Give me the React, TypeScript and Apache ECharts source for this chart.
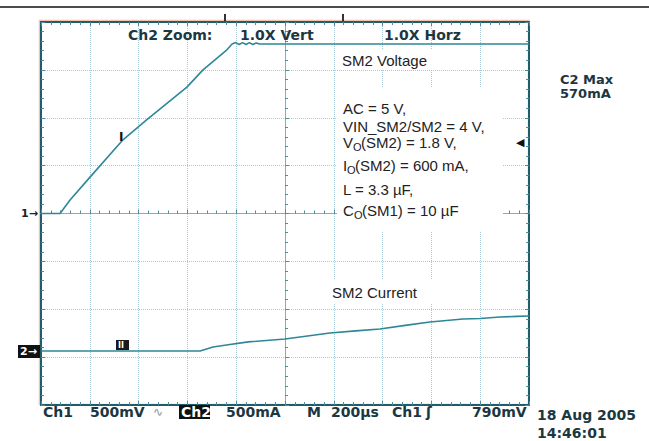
import React, { useEffect, useRef } from "react";
import * as echarts from "echarts";

// Time base 200 µs/div, 10 divisions
const timeMin = 0;
const timeMax = 2000;
const timeStep = 200;
// Ch1: 500 mV/div, ground at centre
const ch1Min = -2;
const ch1Max = 2;
const ch1Step = 0.5;
// Ch2: 500 mA/div, ground 2.87 div below centre
const ch2Min = -564;
const ch2Max = 3436;

// SM2 Voltage (Ch1), volts
const voltTimeUs = [0, 78, 119, 201, 336, 434, 598, 664, 762, 783, 798, 812, 826, 840, 854, 868, 882, 896, 910, 2000];
const voltValuesV = [0, 0, 0.14, 0.38, 0.77, 0.98, 1.32, 1.5, 1.71, 1.77, 1.785, 1.765, 1.785, 1.765, 1.785, 1.765, 1.78, 1.77, 1.77, 1.77];
// SM2 Current (Ch2), mA
const currTimeUs = [0, 652, 705, 760, 850, 1000, 1100, 1184, 1290, 1389, 1500, 1594, 1730, 1800, 1881, 1950, 2000];
const currValuesMA = [0, 0, 42, 62, 95, 125, 160, 188, 210, 230, 270, 303, 334, 340, 355, 362, 365];

const frameColor = "#1f5c6c";
const tickColor = "#4f8c9d";
const gridColor = "#a9cad7";
const traceColor = "#2e8799";
const scopeText = "#1b3742";
const scopeFont = "DejaVu Sans";
const noteFont = "Liberation Sans";

function txt(text: string, x: number, y: number, opts: any = {}) {
  return {
    type: "text",
    x,
    y,
    z: 20,
    style: {
      text,
      fill: opts.fill || scopeText,
      fontSize: opts.fontSize || 14,
      fontFamily: opts.fontFamily || scopeFont,
      fontWeight: opts.fontWeight || "bold",
      align: opts.align || "left",
      verticalAlign: "middle",
    },
  };
}
function note(text: string, x: number, y: number, size = 15) {
  return txt(text, x, y, { fill: "#222", fontSize: size, fontFamily: noteFont, fontWeight: "normal" });
}
function box(x: number, y: number, w: number, h: number, fill: string, z = 5) {
  return { type: "rect", z, shape: { x, y, width: w, height: h }, style: { fill } };
}

export default function App() {
  const ref = useRef<HTMLDivElement>(null);
  useEffect(() => {
    if (!ref.current) return;
    const chart = echarts.init(ref.current, undefined, { renderer: "svg" });
    const frameAxisX = (position: string) => ({
      type: "value",
      min: timeMin,
      max: timeMax,
      interval: timeStep,
      position,
      axisLine: { show: true, onZero: false, lineStyle: { color: frameColor, width: 2 } },
      axisTick: { show: true, inside: true, length: 4, lineStyle: { color: tickColor } },
      minorTick: { show: true, splitNumber: 5, length: 3, lineStyle: { color: tickColor } },
      axisLabel: { show: false },
      splitLine: { show: false },
    });
    const frameAxisY = (position: string, offset = 0, color = frameColor, width = 2) => ({
      type: "value",
      min: ch1Min,
      max: ch1Max,
      interval: ch1Step,
      position,
      offset,
      axisLine: { show: true, onZero: false, lineStyle: { color, width } },
      axisTick: { show: true, inside: true, length: 4, lineStyle: { color: tickColor } },
      minorTick: { show: true, splitNumber: 5, length: 3, lineStyle: { color: tickColor } },
      axisLabel: { show: false },
      splitLine: { show: false },
    });
    const option: any = {
      animation: false,
      backgroundColor: "#ffffff",
      grid: { left: 41, top: 22, width: 488, height: 383, show: false },
      xAxis: [
        {
          type: "value",
          min: timeMin,
          max: timeMax,
          interval: timeStep,
          axisLine: { show: true, onZero: true, onZeroAxisIndex: 0, lineStyle: { color: "#7fb0bf", width: 1 } },
          axisTick: { show: true, inside: true, length: 4, lineStyle: { color: tickColor } },
          minorTick: { show: true, splitNumber: 5, length: 3, lineStyle: { color: tickColor } },
          axisLabel: { show: false },
          splitLine: { show: true, lineStyle: { type: "dotted", color: gridColor, width: 1 } },
        },
        frameAxisX("top"),
        frameAxisX("bottom"),
      ],
      yAxis: [
        {
          ...frameAxisY("left"),
          splitLine: { show: true, lineStyle: { type: "dotted", color: gridColor, width: 1 } },
        },
        { type: "value", min: ch2Min, max: ch2Max, show: false },
        frameAxisY("right"),
        frameAxisY("left", -244, "#7fb0bf", 1),
      ],
      series: [
        {
          name: "SM2 Voltage",
          type: "line",
          xAxisIndex: 0,
          yAxisIndex: 0,
          data: voltTimeUs.map((t, i) => [t, voltValuesV[i]]),
          symbol: "none",
          lineStyle: { color: traceColor, width: 1.6 },
          z: 4,
        },
        {
          name: "SM2 Current",
          type: "line",
          xAxisIndex: 0,
          yAxisIndex: 1,
          data: currTimeUs.map((t, i) => [t, currValuesMA[i]]),
          symbol: "none",
          lineStyle: { color: traceColor, width: 1.6 },
          z: 4,
        },
      ],
      graphic: [
        { type: "rect", z: -1, shape: { x: 39.5, y: 20.5, width: 489, height: 384 }, style: { fill: "none", stroke: "#f2c3ad", lineWidth: 1.5 } },
        { type: "line", z: 20, shape: { x1: 0, y1: 7, x2: 649, y2: 7 }, style: { stroke: "#111", lineWidth: 1.5 } },
        { type: "line", z: 20, shape: { x1: 225, y1: 14, x2: 225, y2: 21 }, style: { stroke: "#333", lineWidth: 2 } },
        { type: "line", z: 20, shape: { x1: 343, y1: 14, x2: 343, y2: 21 }, style: { stroke: "#333", lineWidth: 2 } },
        txt("Ch2 Zoom:", 128, 35),
        txt("1.0X Vert", 240, 35),
        txt("1.0X Horz", 384, 35),
        box(337, 50, 100, 20, "#fff"),
        note("SM2 Voltage", 342, 60),
        box(337, 88, 166, 144, "#fff"),
        note("AC = 5 V,", 343, 108),
        note("VIN_SM2/SM2 = 4 V,", 343, 126),
        note("V", 343, 142),
        note("O", 353, 147, 11),
        note("(SM2) = 1.8 V,", 361, 142),
        note("I", 343, 165),
        note("O", 347, 170, 11),
        note("(SM2) = 600 mA,", 355, 165),
        note("L = 3.3 \u00b5F,", 343, 189),
        note("C", 343, 210),
        note("O", 354, 215, 11),
        note("(SM1) = 10 \u00b5F", 362, 210),
        box(320, 280, 120, 24, "#fff"),
        note("SM2 Current", 332, 292),
        txt("C2 Max", 560, 79, { fontSize: 13 }),
        txt("570mA", 560, 93, { fontSize: 13 }),
        txt("\u25c0", 516, 142, { fontSize: 11, fill: "#111" }),
        txt("I", 119, 137, { fontSize: 12, fill: "#111" }),
        box(116, 340, 13, 10, "#1a1a1a", 19),
        txt("II", 118, 345.5, { fontSize: 8, fill: "#fff" }),
        txt("1\u2192", 21, 213, { fontSize: 11, fill: "#222" }),
        box(18, 345, 22, 13, "#111", 19),
        txt("2\u2192", 20, 351.5, { fontSize: 11, fill: "#fff" }),
        txt("Ch1", 43, 412),
        txt("500mV", 90, 412),
        txt("\u223f", 153, 412, { fontSize: 12, fill: "#8a9aa0", fontWeight: "normal" }),
        box(179, 405, 31, 14, "#111", 19),
        txt("Ch2", 181, 412, { fill: "#fff" }),
        txt("500mA", 226, 412),
        txt("M", 307, 412),
        txt("200\u00b5s", 331, 412),
        txt("Ch1", 392, 412),
        txt("\u0283", 426, 412),
        txt("790mV", 472, 412),
        txt("18 Aug 2005", 537, 415),
        txt("14:46:01", 537, 433),
      ],
    };
    chart.setOption(option);
    return () => chart.dispose();
  }, []);
  return (
    <div
      ref={ref}
      style={{ position: "fixed", left: 0, top: 0, width: 649, height: 441, background: "#fff" }}
    />
  );
}
